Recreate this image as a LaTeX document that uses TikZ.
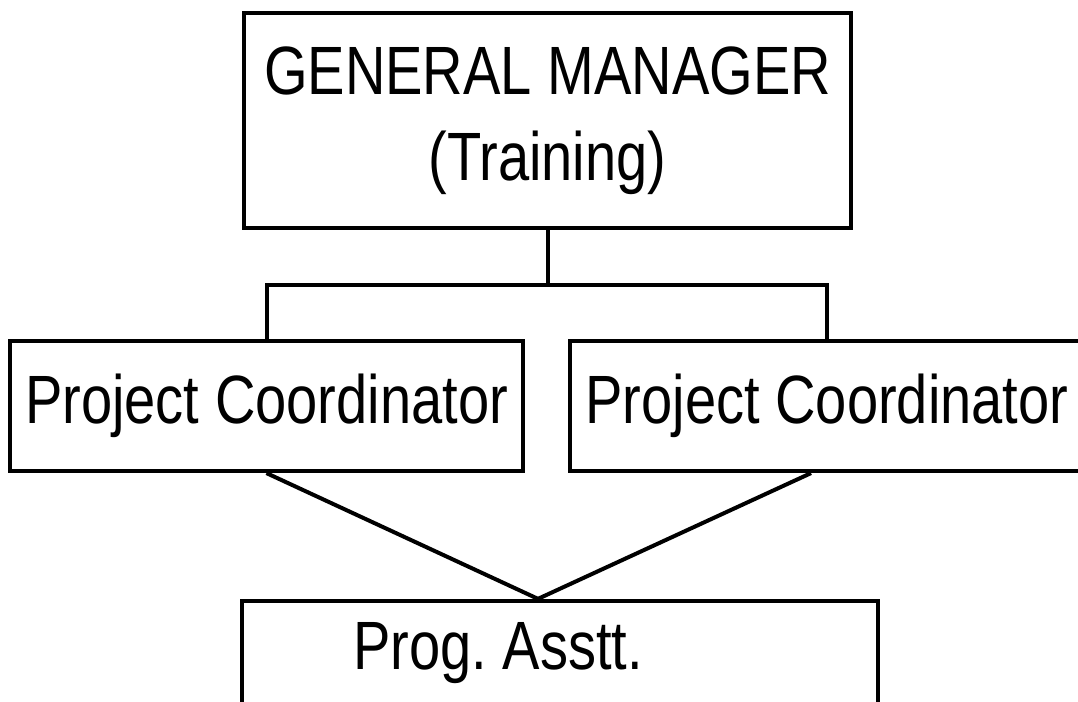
\documentclass[tikz,border=0pt]{standalone}
\usepackage{fontspec}
\setmainfont[FakeStretch=0.82]{Liberation Sans}
\begin{document}
\begin{tikzpicture}[txt/.style = {font = \fontsize{38.9}{49}\selectfont}, box/.style = {draw, txt, line width = 0.085cm, inner sep = 0pt, align = center}, link/.style = {line width = 0.08cm}]
	\clip (0,0) rectangle (21.56,14.04);
	\useasboundingbox (0,0) rectangle (21.56,14.04);
	\node [box, minimum width = 12.14cm, minimum height = 4.3cm] (gm) at (10.95,11.63) {GENERAL MANAGER\\(Training)};
	\node [box, minimum width = 10.26cm, minimum height = 2.6cm] (pcl) at (5.33,5.92) {Project Coordinator};
	\node [box, minimum width = 10.28cm, minimum height = 2.6cm] (pcr) at (16.54,5.92) {Project Coordinator};
	\node [box, minimum width = 12.72cm, minimum height = 4cm] (pa) at (11.2,0.02) {};
	\node [txt, anchor = base] (patext) at (9.96,0.64) {Prog.\ Asstt.};
	\coordinate (bar) at (10.94,8.34);
	\coordinate (apex) at ([xshift = -0.44cm]pa.north);
	\draw [link] (gm.south) -- (gm.south |- bar);
	\draw [link] (pcl.north) |- (bar) -| (pcr.north);
	\draw [link] (pcl.south) -- (apex);
	\draw [link] ([xshift = -0.32cm]pcr.south) -- (apex);
\end{tikzpicture}
\end{document}
